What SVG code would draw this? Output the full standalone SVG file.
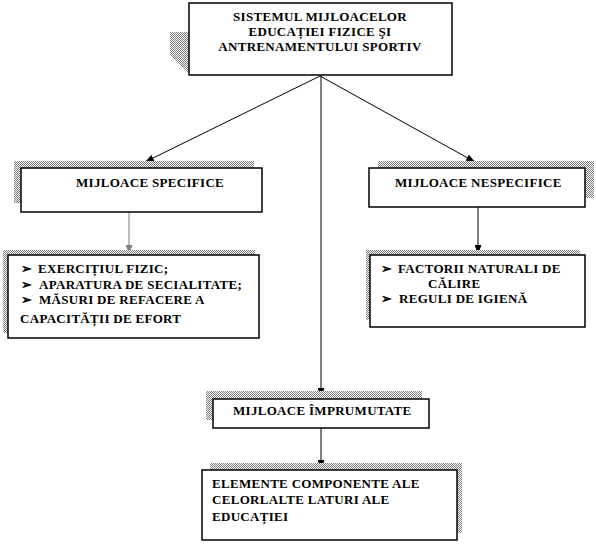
<svg xmlns="http://www.w3.org/2000/svg" width="596" height="546" viewBox="0 0 596 546">
<style>
.box{fill:#fff;stroke:#000;stroke-width:1.5}
.sh{fill:url(#dots);stroke:none}
.t{font-family:"Liberation Serif","Times New Roman",serif;font-weight:bold;font-size:13px;letter-spacing:0.3px;fill:#000}
.c{text-anchor:middle}
.ln{stroke:#000;stroke-width:1;fill:none}
</style>
<defs>
<pattern id="dots" width="2" height="2" patternUnits="userSpaceOnUse">
<rect width="2" height="2" fill="#fff"/>
<rect width="1" height="1" fill="#7a7a7a"/>
<rect x="1" y="1" width="1" height="1" fill="#7a7a7a"/>
</pattern>
<marker id="ah" markerWidth="9" markerHeight="7" refX="9" refY="3.5" orient="auto" markerUnits="userSpaceOnUse">
<path d="M0,0 L9,3.5 L0,7 Z" fill="#000"/>
</marker>
<marker id="ahg" markerWidth="9" markerHeight="7" refX="9" refY="3.5" orient="auto" markerUnits="userSpaceOnUse">
<path d="M0,0 L9,3.5 L0,7 Z" fill="#808080"/>
</marker>
</defs>
<rect width="596" height="546" fill="#fff"/>

<g id="connectors">
<line class="ln" x1="320" y1="76" x2="145" y2="162" marker-end="url(#ah)"/>
<line class="ln" x1="320" y1="76" x2="475" y2="162" marker-end="url(#ah)"/>
<line class="ln" x1="321" y1="76" x2="321" y2="397" marker-end="url(#ah)"/>
<line x1="129" y1="212" x2="129" y2="254" stroke="#808080" stroke-width="1" marker-end="url(#ahg)"/>
<line class="ln" x1="478" y1="207" x2="478" y2="254" marker-end="url(#ah)"/>
<line class="ln" x1="321" y1="428" x2="321" y2="469" marker-end="url(#ah)"/>
</g>

<g id="top">
<polygon class="sh" points="170,32 189,32 189,72 187,72 170,55"/>
<rect class="box" x="189" y="3" width="263" height="72"/>
<text class="t c" x="320" y="21">SISTEMUL MIJLOACELOR</text>
<text class="t c" x="320" y="36">EDUCAȚIEI FIZICE ŞI</text>
<text class="t c" x="320" y="51">ANTRENAMENTULUI SPORTIV</text>
</g>

<g id="specifice">
<rect class="sh" x="14" y="161" width="240" height="42"/>
<rect class="box" x="21" y="168" width="241" height="44"/>
<text class="t" x="76" y="187">MIJLOACE SPECIFICE</text>
</g>

<g id="nespecifice">
<rect class="sh" x="378" y="161" width="216" height="37"/>
<rect class="box" x="369" y="168" width="216" height="39"/>
<text class="t" x="395" y="187">MIJLOACE NESPECIFICE</text>
</g>

<g id="lista-specifice">
<rect class="sh" x="3" y="250" width="252" height="83"/>
<rect class="box" x="8" y="255" width="251" height="83"/>
<text class="t" x="21" y="273">➢</text><text class="t" x="38" y="273">EXERCIȚIUL FIZIC;</text>
<text class="t" x="21" y="289">➢</text><text class="t" x="39" y="289">APARATURA DE SECIALITATE;</text>
<text class="t" x="21" y="304">➢</text><text class="t" x="39" y="304">MĂSURI DE REFACERE A</text>
<text class="t" x="20" y="323">CAPACITĂȚII DE EFORT</text>
</g>

<g id="lista-nespecifice">
<rect class="sh" x="366" y="250" width="214" height="70"/>
<rect class="box" x="370" y="255" width="215" height="72"/>
<text class="t" x="381" y="273">➢</text><text class="t" x="398" y="273">FACTORII NATURALI DE</text>
<text class="t" x="428" y="288">CĂLIRE</text>
<text class="t" x="381" y="303">➢</text><text class="t" x="399" y="303">REGULI DE IGIENĂ</text>
</g>

<g id="imprumutate">
<rect class="sh" x="206" y="391" width="216" height="29"/>
<rect class="box" x="213" y="399" width="216" height="29"/>
<text class="t" x="233" y="415">MIJLOACE ÎMPRUMUTATE</text>
</g>

<g id="elemente">
<rect class="sh" x="210" y="463" width="252" height="70"/>
<rect class="box" x="202" y="470" width="255" height="70"/>
<text class="t" x="212" y="488">ELEMENTE COMPONENTE ALE</text>
<text class="t" x="212" y="504">CELORLALTE LATURI ALE</text>
<text class="t" x="212" y="521">EDUCAȚIEI</text>
</g>
</svg>
